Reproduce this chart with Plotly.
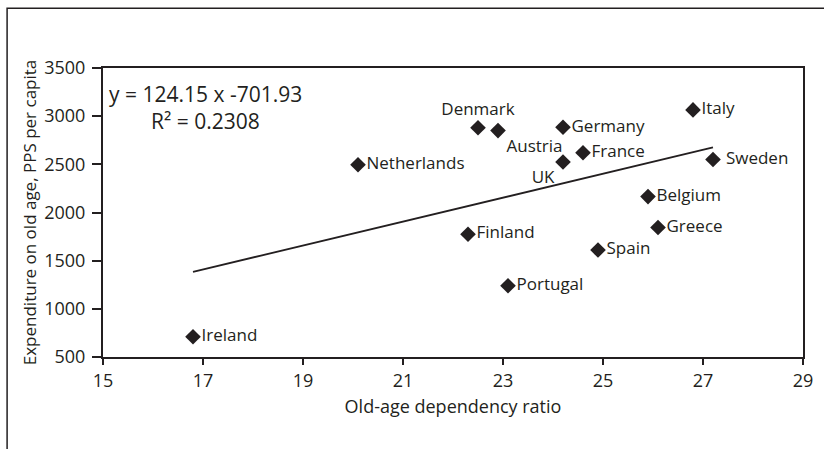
import plotly.graph_objects as go

# Data
countries = ['Ireland', 'Netherlands', 'Denmark', 'Austria', 'Germany', 'France', 'UK',
             'Italy', 'Sweden', 'Belgium', 'Greece', 'Spain', 'Finland', 'Portugal']
dependency_ratio = [16.8, 20.1, 22.5, 22.9, 24.2, 24.6, 24.2,
                    26.8, 27.2, 25.9, 26.1, 24.9, 22.3, 23.1]
expenditure = [710, 2495, 2880, 2850, 2885, 2620, 2525,
               3065, 2550, 2165, 1845, 1610, 1775, 1240]

slope = 124.15
intercept = -701.93
r_squared = 0.2308

INK = '#231f20'
FONT = 'Open Sans, Noto Sans, sans-serif'

label_pos = {'Denmark': 'top center', 'Austria': 'bottom right', 'UK': 'bottom left'}
positions = [label_pos.get(c, 'middle right') for c in countries]
labels = [' Sweden' if c == 'Sweden' else c for c in countries]

fig = go.Figure()

# Trend line
x_min, x_max = min(dependency_ratio), max(dependency_ratio)
fig.add_trace(go.Scatter(
    x=[x_min, x_max],
    y=[slope * x_min + intercept, slope * x_max + intercept],
    mode='lines',
    line=dict(color=INK, width=1.8),
    hoverinfo='skip',
    showlegend=False
))

# Countries
fig.add_trace(go.Scatter(
    x=dependency_ratio,
    y=expenditure,
    mode='markers+text',
    text=labels,
    textposition=positions,
    textfont=dict(family=FONT, size=17, color=INK),
    marker=dict(symbol='diamond', size=12, color=INK),
    hovertemplate='%{text}: %{x}, %{y}<extra></extra>',
    showlegend=False
))

fig.add_annotation(
    x=0.005, y=0.91, xref='paper', yref='paper',
    xanchor='left', yanchor='middle',
    text=f'y = {slope:.2f} x {intercept:.2f}',
    showarrow=False,
    font=dict(family=FONT, size=21, color=INK)
)
fig.add_annotation(
    x=0.147, y=0.815, xref='paper', yref='paper',
    xanchor='center', yanchor='middle',
    text=f'R² = {r_squared:.4f}',
    showarrow=False,
    font=dict(family=FONT, size=21, color=INK)
)

# Outer frame around the figure
fig.add_shape(
    type='rect', xref='paper', yref='paper',
    x0=-0.137, x1=1.05, y0=-0.40, y1=1.207,
    line=dict(color=INK, width=1.5)
)

fig.update_layout(
    width=824, height=449,
    margin=dict(l=103, r=21, t=68, b=92),
    plot_bgcolor='white',
    paper_bgcolor='white',
    showlegend=False,
    hovermode='closest'
)

fig.update_xaxes(
    range=[15, 29], dtick=2, tick0=15,
    showgrid=False, zeroline=False, automargin=False,
    showline=True, linecolor=INK, linewidth=2, mirror=True,
    ticks='outside', ticklen=6, tickwidth=2, tickcolor=INK,
    tickfont=dict(family=FONT, size=18, color=INK),
    title=dict(text='Old-age dependency ratio',
               font=dict(family=FONT, size=18, color=INK),
               standoff=10)
)
fig.update_yaxes(
    range=[500, 3500], dtick=500,
    showgrid=False, zeroline=False, automargin=False,
    showline=True, linecolor=INK, linewidth=2, mirror=True,
    ticks='outside', ticklen=9, tickwidth=2, tickcolor=INK,
    ticklabelstandoff=3,
    tickfont=dict(family=FONT, size=18, color=INK),
    title=dict(text='Expenditure on old age, PPS per capita',
               font=dict(family=FONT, size=17, color=INK),
               standoff=3)
)

# drop the page's default body margin so the figure sits at the window corner
fig.write_html('out.html', config={'displayModeBar': False},
               post_script="document.body.style.margin = '0';")
